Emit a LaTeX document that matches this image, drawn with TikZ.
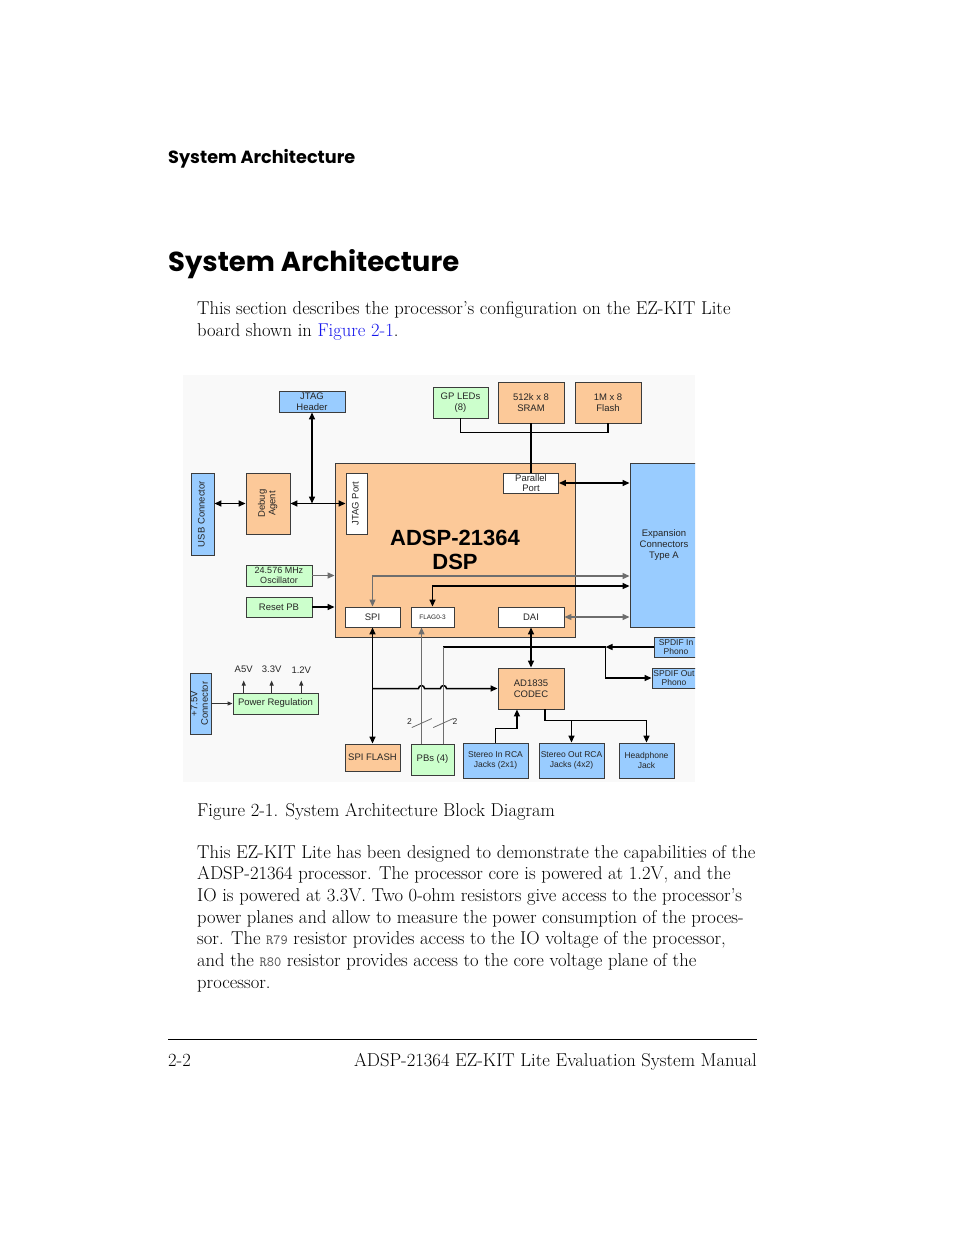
\documentclass[tikz,border=0pt]{standalone}
\usepackage{fontspec}
\usepackage{graphicx}
\usetikzlibrary{arrows.meta,calc}
\newfontfamily\dfont{Liberation Sans}
\newfontfamily\hfont{Poppins}
\definecolor{peach}{RGB}{252,201,153}
\definecolor{lgreen}{RGB}{204,255,204}
\definecolor{lblue}{RGB}{153,204,255}
\definecolor{linkblue}{RGB}{20,20,235}
\definecolor{bord}{RGB}{60,60,60}
\definecolor{gline}{RGB}{110,110,110}
\definecolor{diagbg}{RGB}{249,249,249}
\newcommand\vtxt[1]{\rotatebox{90}{\begin{tabular}{@{}c@{}}#1\end{tabular}}}
\begin{document}
\begin{tikzpicture}[x=1pt,y=-1pt,
  >={Triangle[length=7pt,width=6pt]},
  box/.style={draw=bord, line width=0.9pt, inner sep=0pt, align=center,
    font=\dfont\fontsize{9.5}{10.5}\selectfont, text=black!85},
  pk/.style={box, fill=peach},
  gr/.style={box, fill=lgreen},
  bl/.style={box, fill=lblue},
  wh/.style={box, fill=white},
  wire/.style={line width=1.5pt, black},
  gwire/.style={line width=1.2pt, gline},
  pwire/.style={line width=1pt, black!80, >={Triangle[length=5pt,width=4pt]}},
  small/.style={inner sep=1pt, font=\dfont\fontsize{9.5}{10.5}\selectfont, text=black!85},
  body/.style={anchor=base west, inner sep=0pt, font=\fontsize{18.6}{22}\selectfont},
  mono/.style={}
]
\useasboundingbox (0,0) rectangle (954,1235);
\fill[white] (0,0) rectangle (954,1235);

% ---------- headings ----------
\node[anchor=base west, inner sep=0pt] (hsmall) at (168,163)
  {\resizebox{187pt}{!}{\hfont\bfseries System Architecture}};
\node[anchor=base west, inner sep=0pt] (hbig) at (168,271)
  {\resizebox{291pt}{!}{\hfont\bfseries System Architecture}};

% ---------- first paragraph ----------
\node[body] (p1a) at (197,314) {This section describes the processor’s configuration on the EZ-KIT Lite};
\node[body] (p1b) at (197,336) {board shown in {\color{linkblue}Figure 2-1}.};

% ---------- diagram ----------
\begin{scope}
\clip (183,375) rectangle (695,782);
\fill[diagbg] (183,375) rectangle (695,782);

\node[bl, minimum width=66, minimum height=21] (jtagh) at (312,401.5) {JTAG\\Header};
\node[gr, minimum width=55, minimum height=31] (gpled) at (460.5,402.5) {GP LEDs\\(8)};
\node[pk, minimum width=66, minimum height=41] (sram) at (531,402.5) {512k x 8\\SRAM};
\node[pk, minimum width=66, minimum height=41] (flash) at (608,402.5) {1M x 8\\Flash};

\node[bl, minimum width=23, minimum height=82] (usb) at (202.5,514) {\vtxt{USB Connector}};
\node[pk, minimum width=44, minimum height=61] (debug) at (268,503.5) {\vtxt{Debug\\Agent}};

\node[pk, minimum width=240, minimum height=174,
  font=\dfont\bfseries\fontsize{22}{24}\selectfont, text=black] (dsp) at (455,550) {ADSP-21364\\DSP};
\node[wh, minimum width=21, minimum height=61] (jtagp) at (356.5,503.5) {\vtxt{JTAG Port}};
\node[wh, minimum width=55, minimum height=20] (pport) at (531,483) {Parallel\\Port};
\node[wh, minimum width=55, minimum height=20] (spi) at (372.5,617) {SPI};
\node[wh, minimum width=43, minimum height=20, font=\dfont\fontsize{6.5}{7}\selectfont] (flag) at (432.5,617) {FLAG0-3};
\node[wh, minimum width=66, minimum height=20] (dai) at (531,617) {DAI};

\node[bl, minimum width=68, minimum height=164, font=\dfont\fontsize{9.5}{11}\selectfont] (exp) at (664,545) {Expansion\\Connectors\\Type A};

\node[gr, minimum width=66, minimum height=21, font=\dfont\fontsize{9}{10}\selectfont] (osc) at (279,575.5) {24.576 MHz\\Oscillator};
\node[gr, minimum width=66, minimum height=20] (reset) at (279,607) {Reset PB};

\node[bl, minimum width=44, minimum height=20, font=\dfont\fontsize{8.5}{9.5}\selectfont] (spdifin) at (676,647) {SPDIF In\\Phono};
\node[bl, minimum width=44, minimum height=20, font=\dfont\fontsize{8.5}{9.5}\selectfont] (spdifout) at (674,678) {SPDIF Out\\Phono};

\node[pk, minimum width=66, minimum height=41] (codec) at (531,688.5) {AD1835\\CODEC};

\node[bl, minimum width=21, minimum height=61] (pwr7) at (200.5,703.5) {\vtxt{+7.5V\\Connector}};
\node[gr, minimum width=85, minimum height=21] (pwrreg) at (275.5,703.5) {Power Regulation};

\node[pk, minimum width=55, minimum height=27] (spiflash) at (372.5,757.5) {SPI FLASH};
\node[gr, minimum width=43, minimum height=31] (pbs) at (432.5,759.5) {PBs (4)};
\node[bl, minimum width=65, minimum height=35, font=\dfont\fontsize{8.5}{9.5}\selectfont] (stin) at (495.5,760.5) {Stereo In RCA\\Jacks (2x1)};
\node[bl, minimum width=65, minimum height=35, font=\dfont\fontsize{8.5}{9.5}\selectfont] (stout) at (571.5,760.5) {Stereo Out RCA\\Jacks (4x2)};
\node[bl, minimum width=55, minimum height=35, font=\dfont\fontsize{8.5}{9.5}\selectfont] (hp) at (646.5,760.5) {Headphone\\Jack};

% connectors: debug / JTAG
\draw[wire,<->] (usb.east |- debug.west) -- (debug.west);
\draw[wire,<->] (debug.east) -- (jtagp.west);
\draw[wire,<->] (jtagh.south) -- (jtagh.south |- debug.east);

% memory bus
\draw[wire] (gpled.south) -- ++(0,14) -| (flash.south);
\draw[wire] (sram.south) -- (pport.north);
\draw[wire,<->] (pport.east) -- (exp.west |- pport.east);

% clock / reset
\draw[gwire,->] (osc.east) -- (dsp.west |- osc.east);
\draw[wire,->] (reset.east) -- (dsp.west |- reset.east);

% SPI / FLAG lines to expansion
\draw[gwire,<->] (spi.north) |- (exp.west |- 0,576);
\draw[wire,<->] (flag.north) |- (exp.west |- 0,586);
\draw[gwire,<->] (dai.east) -- (exp.west |- dai.east);
\draw[wire,<->] (dai.south) -- (codec.north);

% SPI flash
\draw[wire,<->] (spi.south) -- (spiflash.north);

% PB lines
\coordinate (pa) at ($(pbs.north west)!0.25!(pbs.north east)$);
\coordinate (pb) at ($(pbs.north west)!0.75!(pbs.north east)$);
\draw[wire,->] (spi.south |- codec.west) -- ($(pa |- codec.west)+(-3,0)$)
  arc[start angle=180,end angle=360,radius=3]
  -- ($(pb |- codec.west)+(-3,0)$)
  arc[start angle=180,end angle=360,radius=3] -- (codec.west);
\draw[gwire,->] (pa) -- (flag.south -| pa);
\coordinate (jn) at ($(spdifin.west)+(-48,0)$);
\draw[wire,->] (spdifin.west) -- (jn);
\draw[wire] (jn) -- (pb |- jn);
\draw[gwire] (pb |- jn) -- (pb);
\draw[wire,->] (jn) |- (spdifout.west);

% bus width marks
\draw[line width=0.8pt, gline] ($(pa)+(-9.75,-16)$) -- ($(pa)+(10.25,-25)$);
\draw[line width=0.8pt, gline] ($(pb)+(-10.25,-16)$) -- ($(pb)+(9.75,-25)$);
\node[small, font=\dfont\fontsize{8.5}{9}\selectfont] (w1) at ($(pa)+(-12,-22)$) {2};
\node[small, font=\dfont\fontsize{8.5}{9}\selectfont] (w2) at ($(pb)+(11.5,-22)$) {2};

% codec audio
\coordinate (cin) at ($(codec.south west)!0.29!(codec.south east)$);
\coordinate (cout) at ($(codec.south west)!0.71!(codec.south east)$);
\draw[wire,->] (stin.north) -- ++(0,-14) -| (cin);
\draw[wire,->] (cout) -- ++(0,11) -| (hp.north);
\draw[wire,->] (stout.north |- 0,720) -- (stout.north);

% power
\draw[pwire,->] (pwr7.east) -- (pwrreg.west);
\draw[pwire,->] ($(pwrreg.north west)!0.13!(pwrreg.north east)$) -- ++(0,-12) node[small, above=6pt] (va) {A5V};
\draw[pwire,->] ($(pwrreg.north west)!0.455!(pwrreg.north east)$) -- ++(0,-12) node[small, above=6pt] (vb) {3.3V};
\draw[pwire,->] ($(pwrreg.north west)!0.8!(pwrreg.north east)$) -- ++(0,-12) node[small, above=6pt] (vc) {1.2V};
\end{scope}

% ---------- caption and second paragraph ----------
\node[body] (cap) at (197,816) {Figure 2-1. System Architecture Block Diagram};
\node[body] (q1) at (197,858) {This EZ-KIT Lite has been designed to demonstrate the capabilities of the};
\node[body] (q2) at (197,879.7) {ADSP-21364 processor. The processor core is powered at 1.2V, and the};
\node[body] (q3) at (197,901.4) {IO is powered at 3.3V. Two 0-ohm resistors give access to the processor’s};
\node[body] (q4) at (197,923.1) {power planes and allow to measure the power consumption of the proces-};
\node[body] (q5) at (197,944.8) {sor. The {\ttfamily\fontsize{14}{22}\selectfont\color{black!70}R79} resistor provides access to the IO voltage of the processor,};
\node[body] (q6) at (197,966.5) {and the {\ttfamily\fontsize{14}{22}\selectfont\color{black!70}R80} resistor provides access to the core voltage plane of the};
\node[body] (q7) at (197,988.2) {processor.};

% ---------- footer ----------
\draw[line width=1pt] (168,1039) -- (757,1039);
\node[body] (f1) at (168,1066) {2-2};
\node[body, anchor=base east] (f2) at (757,1066) {ADSP-21364 EZ-KIT Lite Evaluation System Manual};
\end{tikzpicture}
\end{document}
